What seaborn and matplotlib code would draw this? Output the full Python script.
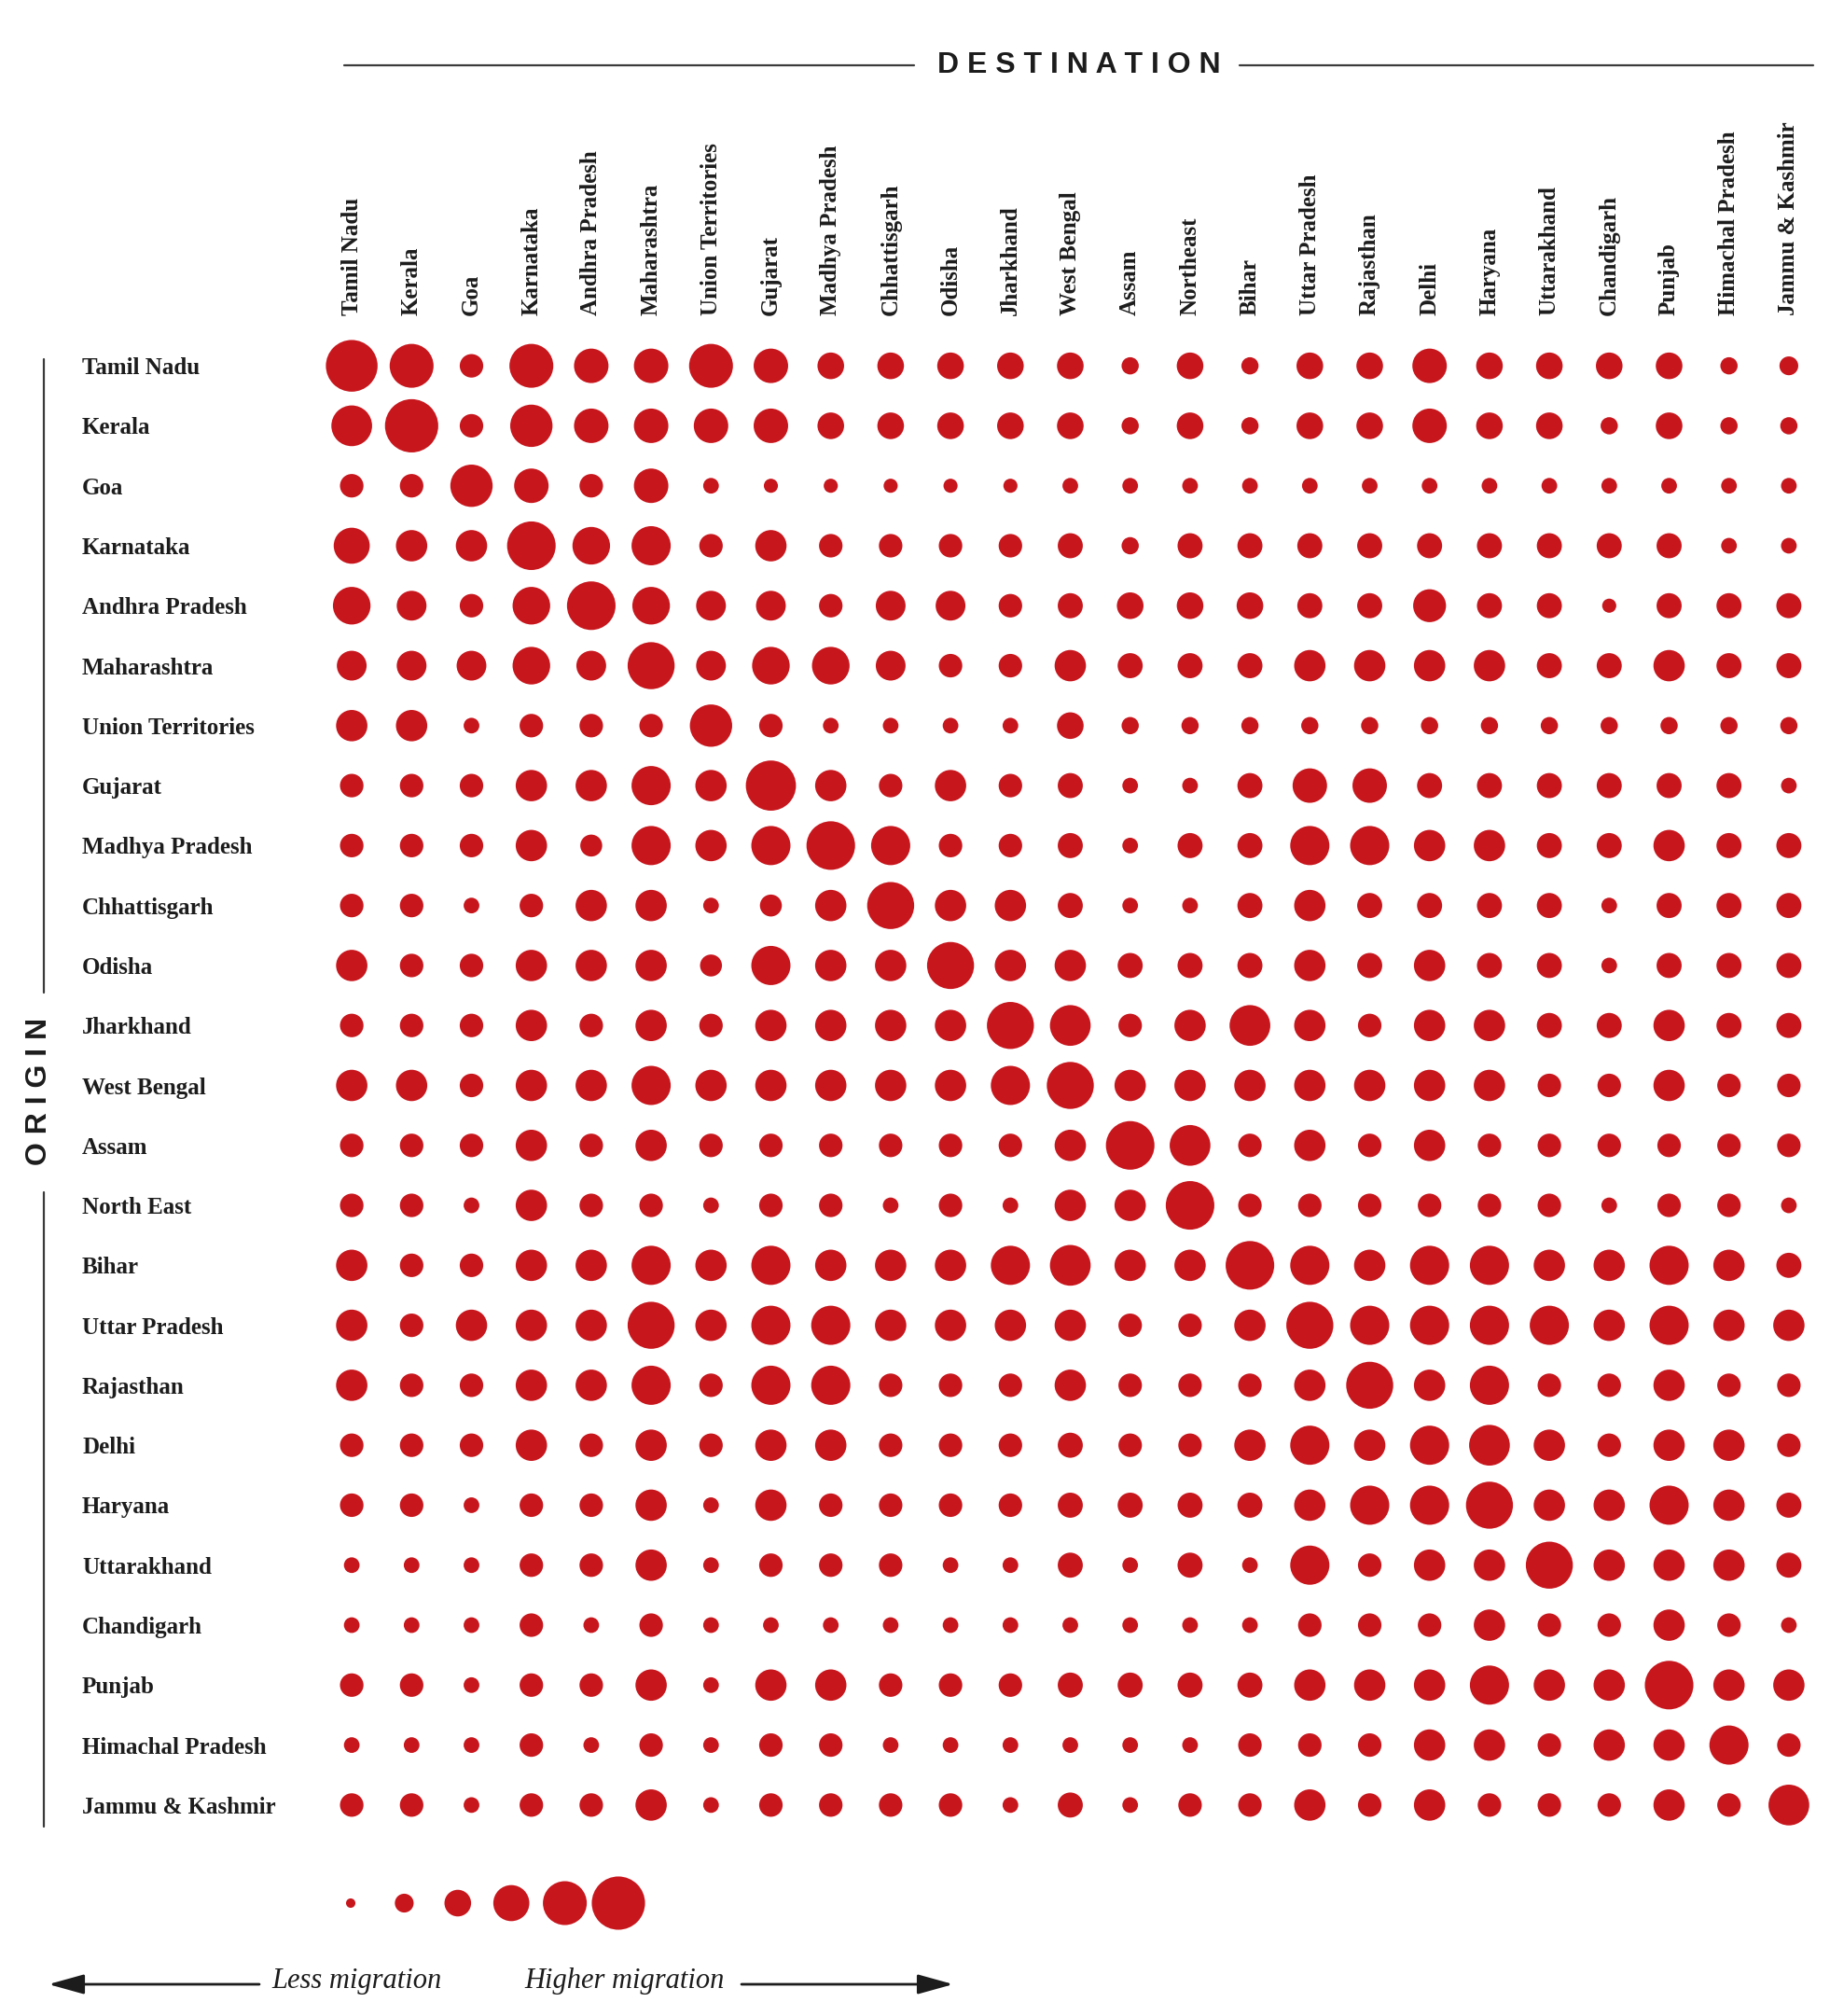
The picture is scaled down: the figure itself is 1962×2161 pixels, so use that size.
import numpy as np
import pandas as pd
import matplotlib
matplotlib.use("Agg")
import matplotlib.pyplot as plt
import seaborn as sns

# Categories
destinations = ["Tamil Nadu", "Kerala", "Goa", "Karnataka", "Andhra Pradesh", "Maharashtra",
                "Union Territories", "Gujarat", "Madhya Pradesh", "Chhattisgarh", "Odisha",
                "Jharkhand", "West Bengal", "Assam", "Northeast", "Bihar", "Uttar Pradesh",
                "Rajasthan", "Delhi", "Haryana", "Uttarakhand", "Chandigarh", "Punjab",
                "Himachal Pradesh", "Jammu & Kashmir"]
origins = ["Tamil Nadu", "Kerala", "Goa", "Karnataka", "Andhra Pradesh", "Maharashtra",
           "Union Territories", "Gujarat", "Madhya Pradesh", "Chhattisgarh", "Odisha",
           "Jharkhand", "West Bengal", "Assam", "North East", "Bihar", "Uttar Pradesh",
           "Rajasthan", "Delhi", "Haryana", "Uttarakhand", "Chandigarh", "Punjab",
           "Himachal Pradesh", "Jammu & Kashmir"]

# migration intensity (relative, read from bubble diameters), one row per origin
migration = [
    [16.5, 14, 7.5, 14, 11, 11, 14, 11, 8.5, 8.5, 8.5, 8.5, 8.5, 5.5, 8.5, 5.5, 8.5, 8.5, 11, 8.5, 8.5, 8.5, 8.5, 5.5, 6],
    [13, 17, 7.5, 13.5, 11, 11, 11, 11, 8.5, 8.5, 8.5, 8.5, 8.5, 5.5, 8.5, 5.5, 8.5, 8.5, 11, 8.5, 8.5, 5.5, 8.5, 5.5, 5.5],
    [7.5, 7.5, 13.5, 11, 7.5, 11, 5, 4.5, 4.5, 4.5, 4.5, 4.5, 5, 5, 5, 5, 5, 5, 5, 5, 5, 5, 5, 5, 5],
    [11.5, 10, 10, 15.5, 12, 12.5, 7.5, 10, 7.5, 7.5, 7.5, 7.5, 8, 5.5, 8, 8, 8, 8, 8, 8, 8, 8, 8, 5, 5],
    [12, 9.5, 7.5, 12, 15.5, 12, 9.5, 9.5, 7.5, 9.5, 9.5, 7.5, 8, 8.5, 8.5, 8.5, 8, 8, 10.5, 8, 8, 4.5, 8, 8, 8],
    [9.5, 9.5, 9.5, 12, 9.5, 15, 9.5, 12, 12, 9.5, 7.5, 7.5, 10, 8, 8, 8, 10, 10, 10, 10, 8, 8, 10, 8, 8],
    [10, 10, 5, 7.5, 7.5, 7.5, 13.5, 7.5, 5, 5, 5, 5, 8.5, 5.5, 5.5, 5.5, 5.5, 5.5, 5.5, 5.5, 5.5, 5.5, 5.5, 5.5, 5.5],
    [7.5, 7.5, 7.5, 10, 10, 12.5, 10, 16, 10, 7.5, 10, 7.5, 8, 5, 5, 8, 11, 11, 8, 8, 8, 8, 8, 8, 5],
    [7.5, 7.5, 7.5, 10, 7, 12.5, 10, 12.5, 15.5, 12.5, 7.5, 7.5, 8, 5, 8, 8, 12.5, 12.5, 10, 10, 8, 8, 10, 8, 8],
    [7.5, 7.5, 5, 7.5, 10, 10, 5, 7, 10, 15, 10, 10, 8, 5, 5, 8, 10, 8, 8, 8, 8, 5, 8, 8, 8],
    [10, 7.5, 7.5, 10, 10, 10, 7, 12.5, 10, 10, 15, 10, 10, 8, 8, 8, 10, 8, 10, 8, 8, 5, 8, 8, 8],
    [7.5, 7.5, 7.5, 10, 7.5, 10, 7.5, 10, 10, 10, 10, 15, 13, 7.5, 10, 13, 10, 7.5, 10, 10, 8, 8, 10, 8, 8],
    [10, 10, 7.5, 10, 10, 12.5, 10, 10, 10, 10, 10, 12.5, 15, 10, 10, 10, 10, 10, 10, 10, 7.5, 7.5, 10, 7.5, 7.5],
    [7.5, 7.5, 7.5, 10, 7.5, 10, 7.5, 7.5, 7.5, 7.5, 7.5, 7.5, 10, 15.5, 13, 7.5, 10, 7.5, 10, 7.5, 7.5, 7.5, 7.5, 7.5, 7.5],
    [7.5, 7.5, 5, 10, 7.5, 7.5, 5, 7.5, 7.5, 5, 7.5, 5, 10, 10, 15.5, 7.5, 7.5, 7.5, 7.5, 7.5, 7.5, 5, 7.5, 7.5, 5],
    [10, 7.5, 7.5, 10, 10, 12.5, 10, 12.5, 10, 10, 10, 12.5, 13, 10, 10, 15.5, 12.5, 10, 12.5, 12.5, 10, 10, 12.5, 10, 8],
    [10, 7.5, 10, 10, 10, 15, 10, 12.5, 12.5, 10, 10, 10, 10, 7.5, 7.5, 10, 15, 12.5, 12.5, 12.5, 12.5, 10, 12.5, 10, 10],
    [10, 7.5, 7.5, 10, 10, 12.5, 7.5, 12.5, 12.5, 7.5, 7.5, 7.5, 10, 7.5, 7.5, 7.5, 10, 15, 10, 12.5, 7.5, 7.5, 10, 7.5, 7.5],
    [7.5, 7.5, 7.5, 10, 7.5, 10, 7.5, 10, 10, 7.5, 7.5, 7.5, 8, 7.5, 7.5, 10, 12.5, 10, 12.5, 13, 10, 7.5, 10, 10, 7.5],
    [7.5, 7.5, 5, 7.5, 7.5, 10, 5, 10, 7.5, 7.5, 7.5, 7.5, 8, 8, 8, 8, 10, 12.5, 12.5, 15, 10, 10, 12.5, 10, 8],
    [5, 5, 5, 7.5, 7.5, 10, 5, 7.5, 7.5, 7.5, 5, 5, 8, 5, 8, 5, 12.5, 7.5, 10, 10, 15, 10, 10, 10, 8],
    [5, 5, 5, 7.5, 5, 7.5, 5, 5, 5, 5, 5, 5, 5, 5, 5, 5, 7.5, 7.5, 7.5, 10, 7.5, 7.5, 10, 7.5, 5],
    [7.5, 7.5, 5, 7.5, 7.5, 10, 5, 10, 10, 7.5, 7.5, 7.5, 8, 8, 8, 8, 10, 10, 10, 12.5, 10, 10, 15.5, 10, 10],
    [5, 5, 5, 7.5, 5, 7.5, 5, 7.5, 7.5, 5, 5, 5, 5, 5, 5, 7.5, 7.5, 7.5, 10, 10, 7.5, 10, 10, 12.5, 7.5],
    [7.5, 7.5, 5, 7.5, 7.5, 10, 5, 7.5, 7.5, 7.5, 7.5, 5, 8, 5, 7.5, 7.5, 10, 7.5, 10, 7.5, 7.5, 7.5, 10, 7.5, 13],
]

# legend bubbles, small to large
legend_values = [3, 6, 8.5, 11.5, 14, 17]

RED = "#c8161d"
INK = "#1c1c1c"
LINE = "#3a3a3a"

sns.set_theme(style="white")
plt.rcParams["font.family"] = ["Liberation Serif", "DejaVu Serif"]

# long form table, bubble area ~ value**2 so the diameter follows the value
rows = []
for o, vals in zip(origins, migration):
    for d, v in zip(destinations, vals):
        rows.append({"origin": o, "destination": d, "area": v ** 2})
df = pd.DataFrame(rows)

size_norm = (0, 17 ** 2)
size_range = (0, 5.85 * 17 ** 2)

W, H = 1962, 2161
fig = plt.figure(figsize=(W / 100, H / 100), dpi=100)
fig.patch.set_facecolor("white")

# main grid axes (pixel layout: 345..1950 x, 360..1967 y)
ax = fig.add_axes([345 / W, 1 - 1967 / H, 1605 / W, 1607 / H])
sns.scatterplot(data=df, x="destination", y="origin", size="area",
                sizes=size_range, size_norm=size_norm, color=RED,
                linewidth=0, legend=False, ax=ax)
ax.set_xlim(-0.5, len(destinations) - 0.5)
ax.set_ylim(len(origins) - 0.5, -0.5)
ax.set_xlabel("")
ax.set_ylabel("")
for s in ax.spines.values():
    s.set_visible(False)
ax.set_facecolor("none")

ax.xaxis.tick_top()
ax.set_xticks(range(len(destinations)))
ax.set_xticklabels(destinations, rotation=90, fontsize=18, fontweight="bold",
                   color=INK, va="bottom", ha="center")
ax.set_yticks(range(len(origins)))
ax.set_yticklabels(origins, fontsize=18, fontweight="bold", color=INK, ha="left")
ax.tick_params(axis="x", length=0, pad=16)
ax.tick_params(axis="y", length=0, pad=185)

# overlay axes in pixel coordinates for headers, legend and arrows
ov = fig.add_axes([0, 0, 1, 1])
ov.set_xlim(0, W)
ov.set_ylim(H, 0)
ov.axis("off")
ov.set_facecolor("none")

head_font = ["Liberation Sans Narrow", "Liberation Sans", "DejaVu Sans"]

# DESTINATION header
ov.plot([369, 980], [70, 70], color=LINE, lw=1.6)
ov.plot([1329, 1944], [70, 70], color=LINE, lw=1.6)
ov.text(1157, 70, "D E S T I N A T I O N", ha="center", va="center",
        fontsize=23, fontweight="bold", color=INK, family=head_font)

# ORIGIN header
ov.plot([47, 47], [385, 1064], color=LINE, lw=1.6)
ov.plot([47, 47], [1278, 1958], color=LINE, lw=1.6)
ov.text(42, 1170, "O R I G I N", ha="center", va="center", rotation=90,
        fontsize=23, fontweight="bold", color=INK, family=head_font)

# size legend
leg = pd.DataFrame({"x": [376 + 57.4 * i for i in range(len(legend_values))],
                    "y": [2040] * len(legend_values),
                    "area": [v ** 2 for v in legend_values]})
sns.scatterplot(data=leg, x="x", y="y", size="area", sizes=size_range,
                size_norm=size_norm, color=RED, linewidth=0, legend=False, ax=ov)
ov.set_xlabel("")
ov.set_ylabel("")

# arrows and captions
arrow_kw = dict(arrowstyle="-|>,head_length=0.9,head_width=0.25", color=INK,
                lw=2, mutation_scale=26, shrinkA=0, shrinkB=0)
ov.annotate("", xy=(52, 2127), xytext=(278, 2127), arrowprops=arrow_kw)
ov.annotate("", xy=(1022, 2127), xytext=(795, 2127), arrowprops=arrow_kw)
ov.text(382, 2124, "Less migration", ha="center", va="center", fontsize=22,
        style="italic", color=INK)
ov.text(670, 2124, "Higher migration", ha="center", va="center", fontsize=22,
        style="italic", color=INK)

fig.savefig("out.png", dpi=100, facecolor="white")
